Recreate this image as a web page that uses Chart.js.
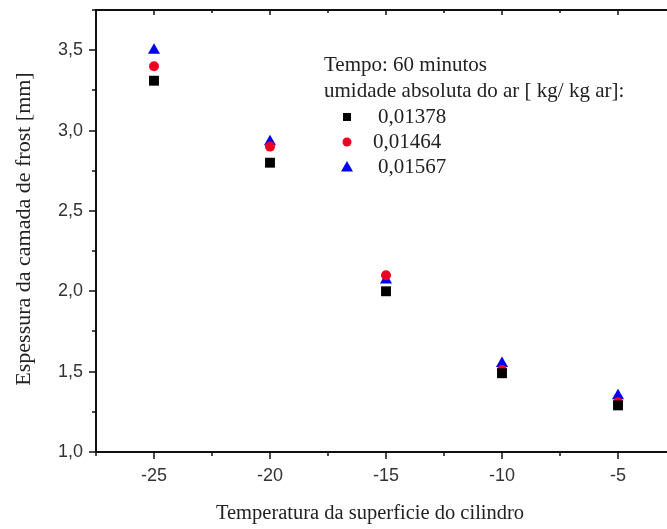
<!DOCTYPE html>
<html lang="pt">
<head>
<meta charset="UTF-8">
<title>Espessura da camada de frost</title>
<script src="https://cdn.jsdelivr.net/npm/chart.js"></script>
<style>
    html, body { margin: 0; padding: 0; background: #fff; overflow: hidden; }
    .wrap { width: 667px; height: 529px; overflow: hidden; }
</style>
</head>
<body>
<div class="wrap"><canvas id="frostChart" width="690" height="529"></canvas></div>
<script>
    // data (60 min, three air humidities)
    const temperaturas = [-25, -20, -15, -10, -5];
    const umidade01378 = [3.31, 2.80, 2.00, 1.49, 1.29];
    const umidade01464 = [3.40, 2.90, 2.10, 1.51, 1.31];
    const umidade01567 = [3.50, 2.93, 2.07, 1.55, 1.35];
    const serieLabels = ['0,01378', '0,01464', '0,01567'];

    const xTickValues = [-25, -20, -15, -10, -5];
    const xTickLabels = ['-25', '-20', '-15', '-10', '-5'];
    const yTickValues = [1.0, 1.5, 2.0, 2.5, 3.0, 3.5];
    const yTickLabels = ['1,0', '1,5', '2,0', '2,5', '3,0', '3,5'];

    const legendTitle = ['Tempo: 60 minutos', 'umidade absoluta do ar [ kg/ kg ar]:'];
    const xTitle = 'Temperatura da superficie do cilindro';
    const yTitle = 'Espessura da camada de frost [mm]';

    const colors = ['#000000', '#ee0022', '#0000ee'];
    const styles = ['rect', 'circle', 'triangle'];
    const radii = [7, 5, 7];

    function points(ys) {
        return temperaturas.map((t, i) => ({ x: t, y: ys[i] }));
    }

    const serif = '"Liberation Serif", "Times New Roman", serif';
    const sans = '"Liberation Sans", Arial, sans-serif';

    // axes, ticks, titles and legend drawn by hand (Origin-like frame)
    const framePlugin = {
        id: 'frame',
        afterDraw(chart) {
            const ctx = chart.ctx;
            const a = chart.chartArea;
            const xs = chart.scales.x, ys = chart.scales.y;
            ctx.save();
            ctx.strokeStyle = '#111';
            ctx.lineWidth = 2;
            ctx.strokeRect(a.left, a.top, a.right - a.left, a.bottom - a.top);

            ctx.lineWidth = 1.5;
            ctx.beginPath();
            // x ticks: major every 5, minor halfway
            for (let v = xs.min; v <= xs.max + 0.001; v += 2.5) {
                const px = Math.round(xs.getPixelForValue(v));
                const major = xTickValues.includes(v);
                const len = major ? 7 : 4;
                ctx.moveTo(px, a.bottom); ctx.lineTo(px, a.bottom + len);
                ctx.moveTo(px, a.top); ctx.lineTo(px, a.top + (major ? 5 : 3));
            }
            // y ticks: major every 0.5, minor halfway
            for (let v = ys.min; v <= ys.max + 0.001; v += 0.25) {
                const py = Math.round(ys.getPixelForValue(v));
                const major = yTickValues.some(t => Math.abs(t - v) < 1e-6);
                ctx.moveTo(a.left, py); ctx.lineTo(a.left - (major ? 7 : 4), py);
            }
            ctx.stroke();

            ctx.fillStyle = '#333';
            ctx.font = '18px ' + sans;
            ctx.textAlign = 'center';
            ctx.textBaseline = 'middle';
            xTickValues.forEach((v, i) => {
                ctx.fillText(xTickLabels[i], xs.getPixelForValue(v), a.bottom + 24);
            });
            ctx.textAlign = 'right';
            yTickValues.forEach((v, i) => {
                ctx.fillText(yTickLabels[i], a.left - 13, ys.getPixelForValue(v));
            });

            ctx.fillStyle = '#222';
            ctx.font = '20.5px ' + serif;
            ctx.textAlign = 'center';
            ctx.fillText(xTitle, 370, 514);
            ctx.save();
            ctx.font = '22px ' + serif;
            ctx.translate(24, 229);
            ctx.rotate(-Math.PI / 2);
            ctx.fillText(yTitle, 0, 0);
            ctx.restore();

            // legend
            ctx.font = '21px ' + serif;
            ctx.textAlign = 'left';
            ctx.fillText(legendTitle[0], 324, 65);
            ctx.fillText(legendTitle[1], 324, 91);
            const rows = [117, 142, 167];
            const textX = [378, 373, 378];
            serieLabels.forEach((lab, i) => {
                const cx = 347, cy = rows[i];
                ctx.fillStyle = colors[i];
                ctx.beginPath();
                if (styles[i] === 'rect') {
                    ctx.rect(cx - 4, cy - 4, 8, 8);
                } else if (styles[i] === 'circle') {
                    ctx.arc(cx, cy, 4.5, 0, Math.PI * 2);
                } else {
                    ctx.moveTo(cx, cy - 6);
                    ctx.lineTo(cx + 6, cy + 4.5);
                    ctx.lineTo(cx - 6, cy + 4.5);
                    ctx.closePath();
                }
                ctx.fill();
                ctx.fillStyle = '#222';
                ctx.fillText(lab, textX[i], cy);
            });
            ctx.restore();
        }
    };

    const datasets = [umidade01378, umidade01464, umidade01567].map((ys, i) => ({
        label: serieLabels[i],
        data: points(ys),
        pointStyle: styles[i],
        pointRadius: radii[i],
        pointHoverRadius: radii[i],
        backgroundColor: colors[i],
        borderColor: colors[i],
        borderWidth: 0,
        showLine: false
    }));

    new Chart(document.getElementById('frostChart'), {
        type: 'scatter',
        data: { datasets: datasets },
        options: {
            responsive: false,
            animation: false,
            layout: { padding: { left: 96, top: 10, right: 14, bottom: 77 } },
            plugins: { legend: { display: false }, tooltip: { enabled: false } },
            scales: {
                x: { type: 'linear', min: -27.5, max: -2.5, display: false },
                y: { type: 'linear', min: 1.0, max: 3.75, display: false }
            }
        },
        plugins: [framePlugin]
    });
</script>
</body>
</html>
